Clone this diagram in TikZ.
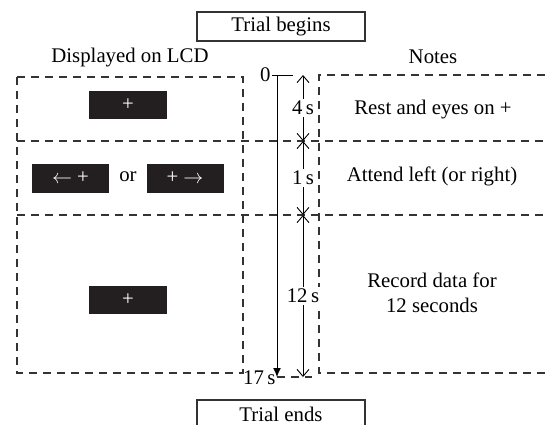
\documentclass[tikz,border=0pt]{standalone}
\usepackage{fontspec}
\setmainfont{Liberation Serif}
\usetikzlibrary{arrows.meta}
\definecolor{screenblack}{HTML}{231F20}
\begin{document}
\begin{tikzpicture}[x=0.5pt,y=-0.5pt,font=\fontsize{10.4}{12.5}\selectfont]
      % Define styles for nodes
      \tikzstyle{stagebox} = [draw=black!80, rectangle, minimum width=84pt,
      minimum height=14.5pt, inner sep=0pt, line width=0.6pt]
      \tikzstyle{screen} = [rectangle, fill=screenblack, text=white,
      minimum width=39pt, minimum height=14pt, inner sep=0pt]
      \tikzstyle{frame} = [dash pattern=on 4pt off 3pt, line width=0.6pt, black!80]
      \tikzstyle{span} = [{Straight Barb[length=3.5pt,width=6pt]}-{Straight Barb[length=3.5pt,width=6pt]},
      line width=0.45pt]
      \tikzstyle{spanlabel} = [fill=white, inner sep=1pt]

      \useasboundingbox (0,0) rectangle (545,424);

      % Dashed frames of the two columns
      \draw[frame] (17,77) rectangle (243,373);
      \draw[frame] (545,75) -- (319,75) -- (319,373) -- (545,373);
      \draw[frame] (17,141) -- (545,141);
      \draw[frame] (17,215) -- (545,215);

      % Start and end of the trial
      \node[stagebox] (begin) at (281,26.5) {Trial begins};
      \node[stagebox] (end) at (281,414.5) {Trial ends};

      % Column headings
      \node (lcd) at (130,58) {Displayed on LCD};
      \node (notes) at (433,57) {Notes};

      % Screens shown on the LCD
      \node[screen] (fix1) at (128,105) {+};
      \node[screen, minimum width=38.5pt, minimum height=14.5pt] (cueleft) at (70.5,178) {$\leftarrow$ +};
      \node (or) at (128,177) {or};
      \node[screen, minimum width=38.5pt, minimum height=14.5pt] (cueright) at (185,178) {+ $\rightarrow$};
      \node[screen] (fix2) at (128,300) {+};

      % Notes
      \node (rest) at (433,110) {Rest and eyes on +};
      \node (attend) at (432,176) {Attend left (or right)};
      \node[align=center] (record) at (432,293) {Record data for\\12 seconds};

      % Time axis
      \coordinate (t0) at (277,75);
      \coordinate (t17) at (277,377);
      \draw[line width=0.5pt] (272,75) -- (293,75);
      \draw[-{Latex[length=4.5pt,width=4pt]}, line width=0.5pt] (t0) -- (t17);
      \draw[frame] (t17) -- (312,377);
      \node[anchor=east, inner sep=0pt] (zero) at (271,75) {0};
      \node[anchor=east, inner sep=0pt] (seventeen) at (276,378) {17\,s};

      % Durations
      \coordinate (d0) at (303,75);
      \coordinate (d4) at (303,141);
      \coordinate (d5) at (303,215);
      \coordinate (d17) at (303,377);
      \draw[span] (d0) -- node[spanlabel] (four) {4\,s} (d4);
      \draw[span] (d4) -- node[spanlabel] (one) {1\,s} (d5);
      \draw[span] (d5) -- node[spanlabel] (twelve) {12\,s} (d17);
    \end{tikzpicture}
\end{document}
